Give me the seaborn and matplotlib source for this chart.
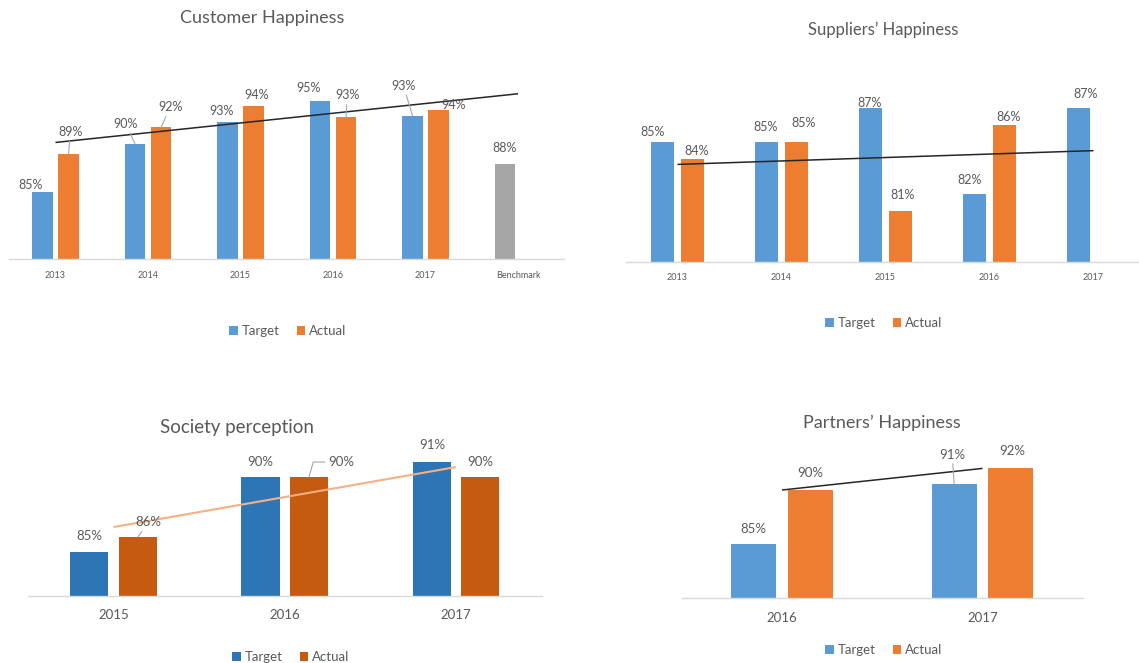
import numpy as np
import pandas as pd
import matplotlib
matplotlib.use("Agg")
import matplotlib.pyplot as plt
from matplotlib.patches import Patch
import seaborn as sns

# ---------------- data ----------------
series_names = ["Target", "Actual"]

cust_cats = ["2013", "2014", "2015", "2016", "2017", "Benchmark"]
cust_target = [85.0, 90.3, 92.7, 95.0, 93.4, 88.1]
cust_actual = [89.2, 92.1, 94.4, 93.2, 94.0, np.nan]

supp_cats = ["2013", "2014", "2015", "2016", "2017"]
supp_target = [85.0, 85.0, 87.0, 82.0, 87.0]
supp_actual = [84.0, 85.0, 81.0, 86.0, np.nan]

soc_cats = ["2015", "2016", "2017"]
soc_target = [85.0, 90.0, 91.0]
soc_actual = [86.0, 90.0, 90.0]

part_cats = ["2016", "2017"]
part_target = [85.0, 90.6]
part_actual = [90.0, 92.0]

titles = ["Customer Happiness", "Suppliers\u2019 Happiness", "Society perception", "Partners\u2019 Happiness"]

# ---------------- style ----------------
sns.set_theme(style="white")
plt.rcParams["font.family"] = ["Lato", "DejaVu Sans"]
TXT = "#595959"
BLUE, ORANGE, GRAY = "#5B9BD5", "#ED7D31", "#A5A5A5"
DBLUE, DORANGE = "#2E75B6", "#C55A11"
LEADER = "#A6A6A6"

W, H = 1139, 663
fig = plt.figure(figsize=(W / 100, H / 100), dpi=100)


def add_ax(left, top, width, bottom):
    return fig.add_axes([left / W, 1 - bottom / H, width / W, (bottom - top) / H])


def long_df(cats, target, actual):
    rows = []
    for c, t, a in zip(cats, target, actual):
        rows.append((c, "Target", t))
        rows.append((c, "Actual", a))
    return pd.DataFrame(rows, columns=["cat", "series", "val"]).dropna()


def panel(ax, cats, target, actual, colors, ylim, tick_fs, tick_pad,
          offsets, leaders, trend_color, trend_lw, bench_gray=False, label_fs=9):
    df = long_df(cats, target, actual)
    sns.barplot(data=df, x="cat", y="val", hue="series", order=cats,
                hue_order=series_names, palette=dict(zip(series_names, colors)),
                width=0.565, gap=0.21, saturation=1, errorbar=None,
                legend=False, linewidth=0, ax=ax)
    if bench_gray:
        ax.containers[0][len(cats) - 1].set_facecolor(GRAY)
    ax.set_ylim(*ylim)
    ax.set_xlim(-0.5, len(cats) - 0.5)
    ax.set_xlabel("")
    ax.set_ylabel("")
    ax.set_yticks([])
    for s in ["left", "right", "top"]:
        ax.spines[s].set_visible(False)
    ax.spines["bottom"].set_color("#D9D9D9")
    ax.spines["bottom"].set_linewidth(1.0)
    ax.tick_params(axis="x", length=0, pad=tick_pad, labelsize=tick_fs, labelcolor=TXT)

    # linear trendline of the Actual series
    idx = np.arange(len(cats))
    act = np.array(actual, dtype=float)
    ok = ~np.isnan(act)
    k, b = np.polyfit(idx[ok], act[ok], 1)
    xs = np.array([0, len(cats) - 1])
    ax.plot(xs, k * xs + b, color=trend_color, lw=trend_lw, zorder=5,
            solid_capstyle="butt")

    # data labels
    all_vals = {"Target": target, "Actual": actual}
    for cont, s in zip(ax.containers, series_names):
        present = [i for i, v in enumerate(all_vals[s]) if not np.isnan(v)]
        for bar, i in zip(cont, present):
            v = all_vals[s][i]
            x = bar.get_x() + bar.get_width() / 2
            dx, dy = offsets[s][i]
            key = (s, i)
            arrow = None
            if key in leaders:
                arrow = dict(arrowstyle="-", color=LEADER, lw=0.8, shrinkA=0, shrinkB=0)
                arrow.update(leaders[key])
            ax.annotate(f"{v:.0f}%", xy=(x, v), xytext=(dx, dy),
                        textcoords="offset pixels", ha="center", va="center",
                        fontsize=label_fs, color=TXT, zorder=6,
                        arrowprops=arrow, annotation_clip=False)


def legend(colors, cx, cy):
    handles = [Patch(facecolor=c, edgecolor="none") for c in colors]
    fig.legend(handles, series_names, loc="center", bbox_to_anchor=(cx / W, 1 - cy / H),
               ncol=2, frameon=False, handlelength=0.65, handleheight=0.65,
               handletextpad=0.3, columnspacing=1.3, fontsize=9.5, labelcolor=TXT,
               borderpad=0, borderaxespad=0)


# ---------------- panel 1: Customer Happiness ----------------
ax1 = add_ax(9.25, 60, 555, 259.5)
panel(ax1, cust_cats, cust_target, cust_actual, [BLUE, ORANGE],
      (77.58, 99.5), 6.5, 8,
      {"Target": [(-12, 7), (-9, 20), (-6, 11), (-11, 13), (-9, 30), (0, 16)],
       "Actual": [(2, 22), (9, 20), (3, 11), (1, 22), (15, 5), (0, 0)]},
      {("Actual", 0): {}, ("Target", 1): {}, ("Actual", 1): {},
       ("Actual", 3): {}, ("Target", 4): {}},
      "#262626", 1.1, bench_gray=True)
fig.text(262 / W, 1 - 18 / H, titles[0], ha="center", va="center", fontsize=13, color=TXT)
legend([BLUE, ORANGE], 288, 331)

# ---------------- panel 2: Suppliers' Happiness ----------------
ax2 = add_ax(625.5, 62, 520, 262)
panel(ax2, supp_cats, supp_target, supp_actual, [BLUE, ORANGE],
      (78.04, 89.64), 6.5, 8,
      {"Target": [(-10, 10), (-1, 15), (-1, 5), (-5, 14), (7, 14)],
       "Actual": [(4, 8), (7, 19), (2, 16), (4, 8), (0, 0)]},
      {}, "#262626", 1.1)
fig.text(883 / W, 1 - 30 / H, titles[1], ha="center", va="center", fontsize=12, color=TXT)
legend([BLUE, ORANGE], 884, 323)

# ---------------- panel 3: Society perception ----------------
ax3 = add_ax(27.9, 446, 513.75, 596)
panel(ax3, soc_cats, soc_target, soc_actual, [DBLUE, DORANGE],
      (82.07, 92.07), 9.5, 9.5,
      {"Target": [(0, 16), (0, 15), (0, 17)],
       "Actual": [(11, 15), (32, 15), (0, 15)]},
      {("Actual", 0): {},
       ("Actual", 1): {"relpos": (0, 0.5),
                       "connectionstyle": "angle,angleA=180,angleB=74,rad=0"}},
      "#F4B183", 1.5, label_fs=9.5)
fig.text(237 / W, 1 - 427 / H, titles[2], ha="center", va="center", fontsize=13.5, color=TXT)
legend([DBLUE, DORANGE], 291, 657)

# ---------------- panel 4: Partners' Happiness ----------------
ax4 = add_ax(681.75, 448, 401, 598)
panel(ax4, part_cats, part_target, part_actual, [BLUE, ORANGE],
      (80.0, 93.89), 9.5, 10,
      {"Target": [(0, 15), (-2, 29)],
       "Actual": [(0, 17), (1, 17)]},
      {("Target", 1): {}},
      "#262626", 1.1, label_fs=9.5)
fig.text(882 / W, 1 - 423 / H, titles[3], ha="center", va="center", fontsize=13, color=TXT)
legend([BLUE, ORANGE], 884, 650)

fig.savefig("out.png", dpi=100)
